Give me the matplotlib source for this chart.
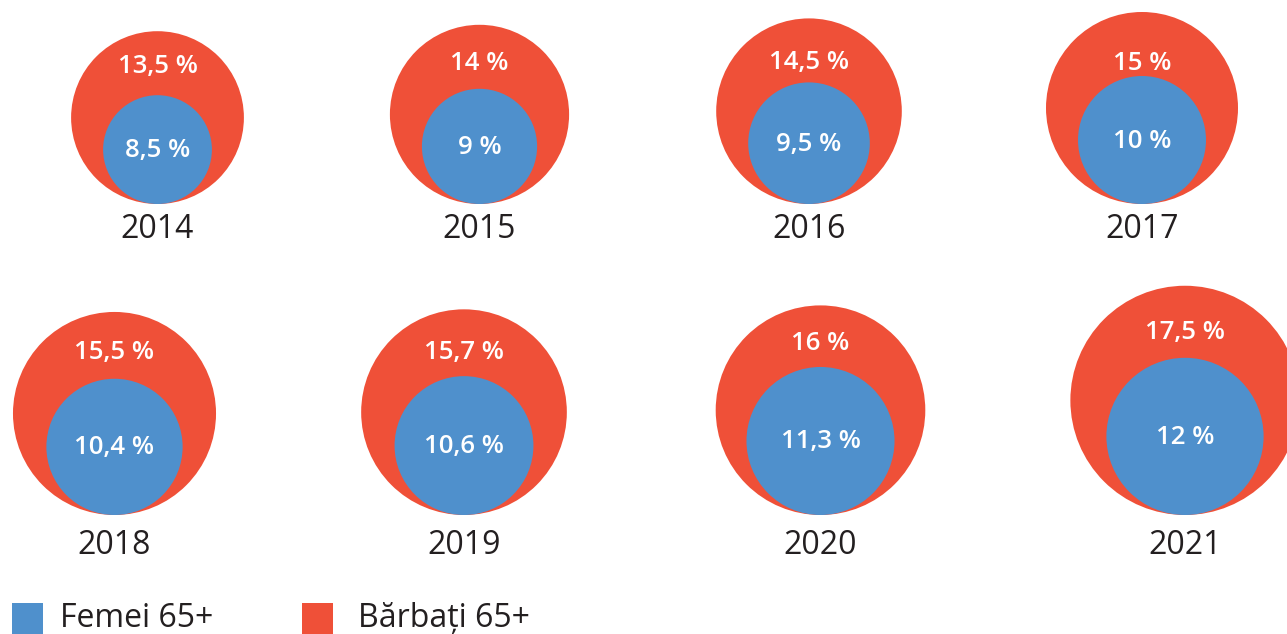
import matplotlib.pyplot as plt
from matplotlib.patches import Circle, Rectangle

plt.rcParams['font.family'] = ['Open Sans', 'DejaVu Sans']

years = ['2014', '2015', '2016', '2017', '2018', '2019', '2020', '2021']
barbati = [13.5, 14, 14.5, 15, 15.5, 15.7, 16, 17.5]
femei = [8.5, 9, 9.5, 10, 10.4, 10.6, 11.3, 12]

RED = '#EF5038'
BLUE = '#4F90CC'
DARK = '#231F20'

# layout in pixels (figure drawn 1:1 in pixel coordinates)
cx = [157.5, 479.5, 809, 1142, 114.5, 464, 820.5, 1185]
base = [204] * 4 + [515] * 4
scale = [6.4] * 4 + [6.55] * 4
year_y = [230] * 4 + [545] * 4
top_label_y = [67, 63, 63, 63, 352, 352, 343, 333]


def fmt(v):
    return f"{v:g}".replace('.', ',') + ' %'


fig = plt.figure(figsize=(12.87, 6.34), dpi=100)
ax = fig.add_axes([0, 0, 1, 1])
ax.set_xlim(0, 1287)
ax.set_ylim(634, 0)
ax.axis('off')

for i in range(len(years)):
    ro = barbati[i] * scale[i]
    ri = femei[i] * scale[i]
    ax.add_patch(Circle((cx[i], base[i] - ro), ro, color=RED, lw=0))
    ax.add_patch(Circle((cx[i], base[i] - ri), ri, color=BLUE, lw=0))
    ax.text(cx[i], top_label_y[i], fmt(barbati[i]), color='white',
            fontsize=18.5, fontweight='semibold', ha='center', va='center')
    ax.text(cx[i], base[i] - ri + 1, fmt(femei[i]), color='white',
            fontsize=18.5, fontweight='semibold', ha='center', va='center')
    ax.text(cx[i], year_y[i], years[i], color=DARK, fontsize=23,
            ha='center', va='center')

# legend
ax.add_patch(Rectangle((12, 603), 31, 31, color=BLUE, lw=0))
ax.text(60, 627, 'Femei 65+', color=DARK, fontsize=23, va='baseline')
ax.add_patch(Rectangle((302, 603), 31, 31, color=RED, lw=0))
ax.text(358, 627, 'Bărbați 65+', color=DARK, fontsize=23, va='baseline')

fig.savefig('out.png', dpi=100)
